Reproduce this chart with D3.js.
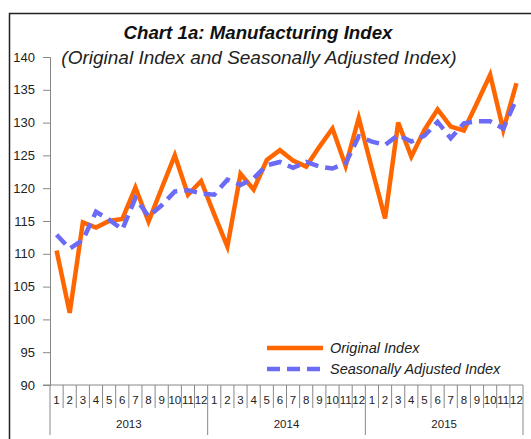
<!DOCTYPE html>
<html>
<head>
<meta charset="utf-8">
<script src="https://cdnjs.cloudflare.com/ajax/libs/d3/7.8.5/d3.min.js"></script>
<style>
  body { margin: 0; background: #fff; }
  svg { display: block; font-family: "Liberation Sans", Arial, sans-serif; }
</style>
</head>
<body>
<div id="chart"></div>
<script>

// chart values
var years = ["2013", "2014", "2015"];
var monthLabels = ["1","2","3","4","5","6","7","8","9","10","11","12"];

var original = [
    110.5, 101, 114.8, 114.0, 115.0, 115.3, 120.1, 114.9, 120.0, 125.0, 119.0, 121.1,
    116.0, 111.1, 122.2, 119.8, 124.3, 125.8, 124.2, 123.3, 126.3, 129.1, 123.4, 130.7,
    123.0, 115.4, 130.0, 124.8, 128.9, 132.0, 129.4, 128.8, 133.0, 137.3, 128.9, 136.0
];

var adjusted = [
    112.9, 110.8, 112.1, 116.4, 115.2, 113.7, 118.5, 115.7, 117.4, 119.5, 119.7, 119.2,
    119.0, 121.3, 120.5, 121.5, 123.5, 124.0, 123.1, 124.0, 123.3, 123.0, 123.8, 127.9,
    127.1, 126.6, 128.1, 127.1, 128.0, 130.1, 127.6, 129.9, 130.2, 130.2, 129.1, 133.6
];

var yTicks = [90, 95, 100, 105, 110, 115, 120, 125, 130, 135, 140];

drawChart();

function drawChart() {

    var width = 531, height = 439;
    var left = 50, right = 523, plotTop = 57, bottom = 385;

    var svg = d3.select("#chart").append("svg")
        .attr("width", width)
        .attr("height", height);

    //outer frame (runs off the right and bottom edges)
    svg.append("rect")
        .attr("x", 9.5)
        .attr("y", 13.5)
        .attr("width", 600)
        .attr("height", 600)
        .style("fill", "none")
        .style("stroke", "#222")
        .style("stroke-width", 1.5);

    // one slot per month
    var x = d3.scaleBand()
        .domain(d3.range(original.length))
        .range([left, right]);

    var y = d3.scaleLinear()
        .domain([90, 140])
        .range([bottom, plotTop]);

    //title
    svg.append("text")
        .attr("x", 258)
        .attr("y", 39)
        .attr("text-anchor", "middle")
        .style("font-size", "18.7px")
        .style("font-weight", "bold")
        .style("font-style", "italic")
        .style("fill", "#111")
        .text("Chart 1a: Manufacturing Index");

    svg.append("text")
        .attr("x", 259)
        .attr("y", 64)
        .attr("text-anchor", "middle")
        .style("font-size", "19px")
        .style("font-style", "italic")
        .style("fill", "#222")
        .text("(Original Index and Seasonally Adjusted Index)");

    //y axis
    var yAxis = svg.append("g")
        .attr("transform", "translate(" + left + ",0)")
        .call(d3.axisLeft(y).tickValues(yTicks).tickSize(7).tickPadding(8));

    yAxis.selectAll("text")
        .style("font-size", "13px")
        .style("font-family", "Liberation Sans, Arial, sans-serif")
        .style("fill", "#222");
    yAxis.selectAll("line, path").style("stroke", "#888");

    //x axis: month boxes and year boxes
    var xg = svg.append("g");

    xg.append("line")
        .attr("x1", left - 7).attr("x2", right)
        .attr("y1", bottom).attr("y2", bottom)
        .style("stroke", "#888");

    var bounds = d3.range(original.length + 1);

    xg.selectAll(".mtick").data(bounds)
        .enter().append("line")
        .attr("class", "mtick")
        .attr("x1", function(d){ return left + d * x.step(); })
        .attr("x2", function(d){ return left + d * x.step(); })
        .attr("y1", bottom)
        .attr("y2", function(d){ return d % 12 == 0 ? 435 : 408; })
        .style("stroke", "#888");

    xg.selectAll(".mlabel").data(d3.range(original.length))
        .enter().append("text")
        .attr("class", "mlabel")
        .attr("x", function(d){ return x(d) + x.bandwidth() / 2; })
        .attr("y", 404)
        .attr("text-anchor", "middle")
        .style("font-size", "11.5px")
        .style("fill", "#222")
        .text(function(d){ return monthLabels[d % 12]; });

    xg.selectAll(".ylabel").data(years)
        .enter().append("text")
        .attr("class", "ylabel")
        .attr("x", function(d, i){ return x(i * 12) + 6 * x.step(); })
        .attr("y", 428)
        .attr("text-anchor", "middle")
        .style("font-size", "11.5px")
        .style("fill", "#222")
        .text(function(d){ return d; });

    //series
    var line = d3.line()
        .x(function(d, i){ return x(i) + x.bandwidth() / 2; })
        .y(function(d){ return y(d); });

    svg.append("path")
        .datum(original)
        .attr("d", line)
        .style("fill", "none")
        .style("stroke", "#FF6600")
        .style("stroke-width", 4.5)
        .style("stroke-linejoin", "miter");

    svg.append("path")
        .datum(adjusted)
        .attr("d", line)
        .style("fill", "none")
        .style("stroke", "#6B6BF5")
        .style("stroke-width", 4.5)
        .style("stroke-dasharray", "13,7");

    //legend
    var legend = [
        {name: "Original Index", color: "#FF6600", dash: null},
        {name: "Seasonally Adjusted Index", color: "#6B6BF5", dash: "13,7"}
    ];

    var lg = svg.selectAll(".legend").data(legend)
        .enter().append("g")
        .attr("class", "legend")
        .attr("transform", function(d, i){ return "translate(267," + (348 + i * 21) + ")"; });

    lg.append("line")
        .attr("x1", 0).attr("x2", 56)
        .style("stroke", function(d){ return d.color; })
        .style("stroke-width", 4.5)
        .style("stroke-dasharray", function(d){ return d.dash; });

    lg.append("text")
        .attr("x", 63)
        .attr("y", 5)
        .style("font-size", "14.5px")
        .style("font-style", "italic")
        .style("fill", "#222")
        .text(function(d){ return d.name; });
}

</script>
</body>
</html>
